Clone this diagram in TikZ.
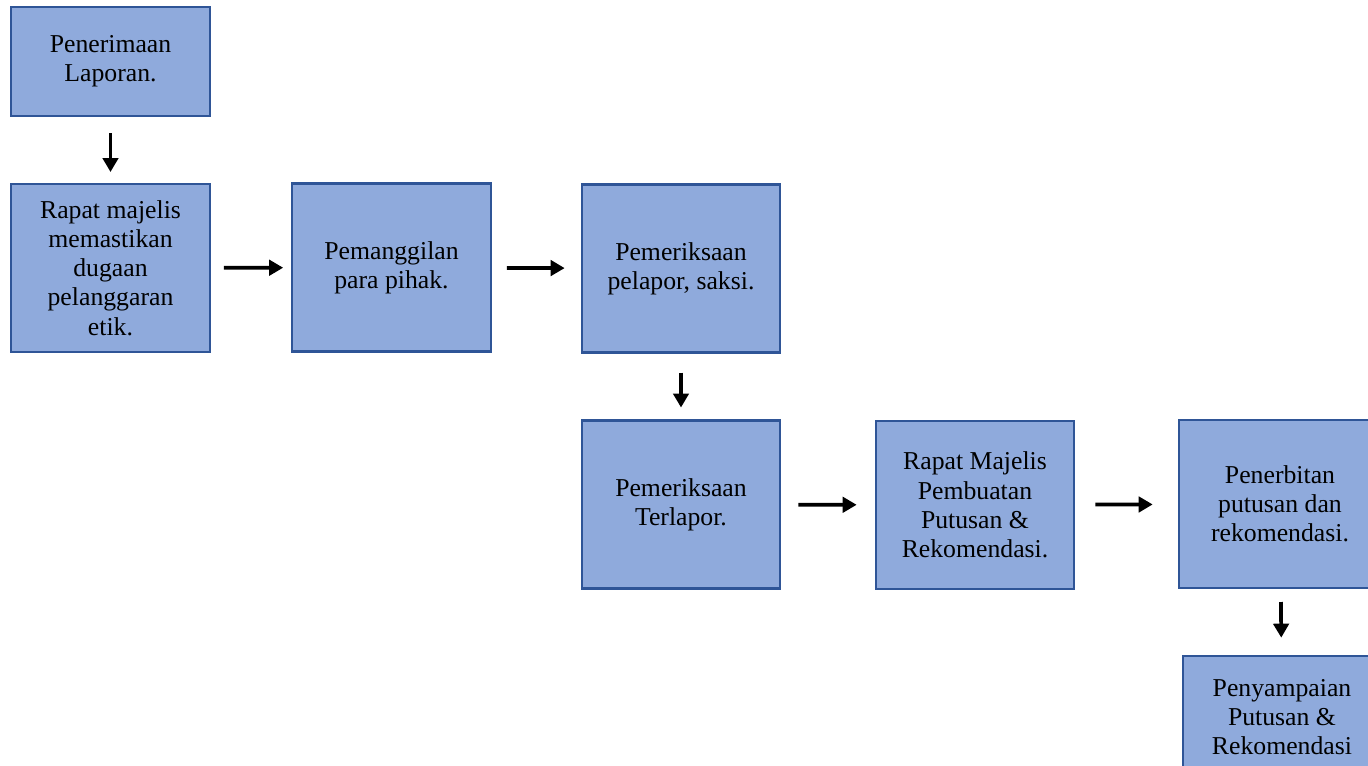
\documentclass[tikz,border=0pt]{standalone}
\usepackage{fontspec}
\setmainfont{Liberation Serif}
\usetikzlibrary{arrows.meta}
\definecolor{boxfill}{HTML}{8FAADC}
\definecolor{boxline}{HTML}{2F5597}
\begin{document}
\begin{tikzpicture}[x=0.75pt,y=-0.75pt,
    flow/.style={line width=2.8pt,-{Triangle[length=10.5pt,width=11.5pt]}}]

      \useasboundingbox (0,0) rectangle (1368,765);
      \clip (0,0) rectangle (1368,765);

      \begin{scope}[every node/.style={draw=boxline,fill=boxfill,line width=1.6pt,
          minimum width=149pt,minimum height=126pt,inner sep=2pt,outer sep=0pt,
          align=center,font=\fontsize{19.3}{21.9}\selectfont}]
        \node[minimum height=82pt] (b1) at (110.5,61.5) {Penerimaan\\Laporan.};
        \node (b2) at (110.5,268) {Rapat majelis\\memastikan\\dugaan\\pelanggaran\\etik.};
        \node (b3) at (391.5,267.5) {Pemanggilan\\para pihak.};
        \node (b4) at (681,268.5) {Pemeriksaan\\pelapor, saksi.};
        \node (b5) at (681,504.5) {Pemeriksaan\\Terlapor.};
        \node (b6) at (975,505) {Rapat Majelis\\Pembuatan\\Putusan \&\\Rekomendasi.};
        \node[minimum width=152pt] (b7) at (1280,504) {Penerbitan\\putusan dan\\rekomendasi.};
        \node[minimum height=92pt] (b8) at (1282,717) {Penyampaian\\Putusan \&\\Rekomendasi};
      \end{scope}

      \begin{scope}[every edge/.style={draw,flow}]
        \path (b1) edge[shorten <=12.75pt,shorten >=9pt] (b2);
        \path (b2) edge[shorten <=10.5pt,shorten >=6.75pt] (b3);
        \path (b3) edge[shorten <=12pt,shorten >=12.75pt] (b4);
        \path (b4) edge[shorten <=15pt,shorten >=9.75pt] (b5);
        \path (b5) edge[shorten <=13.5pt,shorten >=14.25pt] (b6);
        \path (b6) edge[shorten <=15.75pt,shorten >=19.5pt] (b7);
        \path (b7) edge[shorten <=10.5pt,shorten >=13.5pt] (b8);
      \end{scope}

    \end{tikzpicture}
\end{document}
